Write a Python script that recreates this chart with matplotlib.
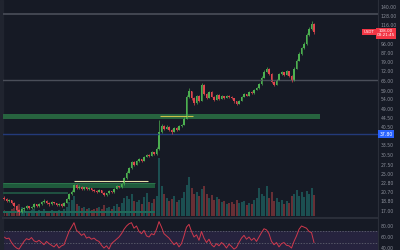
import numpy as np
import matplotlib.pyplot as plt
from matplotlib.ticker import NullLocator

# candle data
first_open = 19.5
closes = [19.2, 18.8, 19.0, 18.4, 18.0, 17.2, 16.8, 17.3,
          17.6, 17.9, 17.5, 17.8, 18.2, 17.9, 18.3,
          18.6, 18.9, 18.5, 18.2, 18.6, 18.4, 18.1, 18.3, 18.0, 18.5, 19.3,
          20.2, 20.8, 22.3, 21.6,
          21.9, 21.4, 21.7, 21.3, 21.5, 21.2, 21.0, 20.8, 21.1, 20.6, 20.1,
          20.4, 20.9, 20.7, 21.4, 22.0, 21.7, 22.4,
          24.0, 25.3, 26.4, 28.1,
          27.5, 28.4, 29.0, 28.6, 29.8, 30.4, 30.0,
          31.2, 30.6, 32.3, 38.5,
          41.0, 39.8, 40.6, 39.2, 38.6, 40.1, 39.4, 40.8, 41.5,
          44.2, 55.0, 58.5,
          54.5, 52.0, 55.8, 53.2, 62.5,
          57.0, 54.8, 58.2, 55.5, 53.8, 56.5,
          54.2, 55.6, 54.8, 56.0, 55.2, 54.5,
          52.8, 51.5, 53.0,
          55.5, 56.8, 56.0, 58.2, 57.5, 59.6, 60.5,
          63.2, 67.5, 71.8, 73.5, 70.2,
          64.5, 62.8, 66.0,
          69.8, 71.2, 69.5, 72.0, 68.5, 65.2,
          74.0, 80.5, 86.0, 91.5, 96.0, 105.0, 111.5, 118.0, 108.0]
highs = [19.8, 19.4, 19.3, 19.1, 18.6, 18.1, 17.4, 17.5,
         17.8, 18.1, 18.0, 18.0, 18.4, 18.3, 18.5,
         18.8, 19.2, 19.0, 18.6, 18.8, 18.7, 18.5, 18.5, 18.4, 18.7, 19.5,
         20.5, 21.2, 22.6, 22.5,
         22.2, 22.0, 21.9, 21.8, 21.7, 21.6, 21.3, 21.1, 21.3, 21.2, 20.7,
         20.6, 21.1, 21.0, 21.6, 22.2, 22.1, 22.7,
         24.3, 25.6, 26.8, 28.5,
         28.4, 28.7, 29.4, 29.2, 30.1, 30.8, 30.7,
         31.5, 31.4, 32.8, 43.5,
         42.0, 41.4, 41.2, 40.9, 39.6, 40.5, 40.6, 41.2, 42.0,
         45.0, 56.5, 60.5,
         59.0, 55.2, 56.5, 56.2, 64.0,
         63.0, 57.6, 59.0, 58.8, 56.0, 57.0,
         56.9, 56.2, 56.0, 56.5, 56.4, 55.6,
         54.9, 53.2, 53.5,
         56.0, 57.4, 57.2, 58.8, 58.6, 60.2, 61.2,
         64.0, 68.5, 72.8, 75.0, 74.2,
         70.8, 65.2, 66.8,
         70.6, 72.4, 71.8, 72.8, 72.6, 69.0,
         75.0, 81.8, 87.5, 93.0, 98.0, 107.0, 113.5, 121.0, 119.0]
lows = [19.0, 18.6, 18.6, 18.2, 17.7, 16.9, 16.4, 16.6,
        17.1, 17.4, 17.3, 17.3, 17.6, 17.7, 17.8,
        18.1, 18.4, 18.3, 18.0, 18.1, 18.2, 17.9, 17.9, 17.8, 17.9, 18.4,
        19.1, 20.0, 20.7, 21.3,
        21.4, 21.2, 21.2, 21.1, 21.1, 21.0, 20.8, 20.6, 20.7, 20.4, 19.8,
        19.9, 20.3, 20.5, 20.6, 21.3, 21.5, 21.6,
        22.3, 23.8, 25.1, 26.2,
        27.1, 27.3, 28.2, 28.3, 28.5, 29.6, 29.7,
        29.9, 30.3, 30.5, 32.1,
        38.0, 39.3, 39.5, 38.8, 37.6, 38.4, 39.0, 39.2, 40.5,
        41.2, 44.0, 54.5,
        53.8, 50.8, 51.5, 52.5, 53.0,
        56.2, 54.0, 54.5, 55.0, 53.0, 53.5,
        53.7, 53.9, 54.3, 54.5, 54.8, 54.0,
        52.2, 50.8, 51.2,
        52.8, 55.2, 55.6, 55.8, 57.0, 57.2, 59.2,
        60.2, 62.8, 67.0, 71.2, 69.5,
        63.8, 61.8, 62.4,
        65.6, 69.2, 68.8, 69.0, 67.8, 64.2,
        65.0, 73.5, 79.8, 85.2, 90.5, 95.0, 104.0, 110.5, 106.0]
volume = [6, 5, 4, 7, 8, 10, 12, 9, 6, 5, 4, 6, 7, 5, 6, 5, 7, 4, 5, 6, 4, 5, 6, 5, 7, 9,
          14, 16, 20, 12,
          10, 8, 9, 7, 8, 6, 7, 8, 9, 7, 11, 8, 9, 7, 10, 12, 9, 13,
          18, 20, 17, 22, 15, 14, 16, 12, 19, 23, 14, 13, 17, 20,
          58,
          30, 22, 18, 15, 17, 20, 14, 16, 18,
          24, 31, 39,
          28, 22, 24, 20, 27, 30, 22, 18, 21, 16, 19, 17, 14, 15, 12, 13, 14,
          12, 16, 13, 14, 15, 11, 13, 12, 16, 18,
          28, 22, 20, 30, 18,
          24, 15, 18, 14, 16, 12, 15, 13, 20,
          22, 26, 20, 24, 19, 25, 22, 28, 21]
rsi = [60, 57, 58, 50, 44, 40, 38, 45,
       52, 57, 55, 59, 53, 51, 54, 50, 46, 52, 48,
       45, 42, 47, 40, 44, 46, 58, 70, 78, 86,
       72, 68, 63, 66, 58, 60, 56, 58, 54, 52,
       45, 40, 44, 38, 48, 52, 56, 60,
       66, 74, 80, 84, 86, 76, 80, 70, 66, 72, 62,
       60, 66, 64, 74, 88, 78, 66, 62, 58,
       52, 46, 50, 42, 48, 62, 78, 83,
       70, 60, 64, 54, 70, 58, 50, 56, 46, 42, 48,
       44, 50, 46, 40, 47, 43, 38, 41,
       50, 58, 63, 56, 60, 54, 58, 52, 60, 68,
       75, 73, 66, 52, 46, 50, 42, 48,
       50, 45, 44, 40, 52, 62, 74, 80, 78, 76, 70, 68, 50]

# scale labels (the ones hidden behind the price tags are left out)
price_ticks = [140, 128, 116, 96, 87, 79, 72, 65, 59, 54, 49, 44.5, 40.5,
               33.5, 30.5, 27.5, 25, 22.8, 20.7, 18.8, 17]
rsi_ticks = [80, 60, 40]
last_price = "108.00"
last_timer = "03:21:45"
line_price = 37.8

BG = '#161a25'
GRID = '#2a2e39'
TXT = '#8b8f9a'
UP = '#4caf50'
DN = '#e0464e'

n = len(closes)
x = np.arange(n)
opens = np.array([first_open] + closes[:-1])
closes = np.array(closes)
up = closes >= opens

fig = plt.figure(figsize=(4, 2.5), dpi=100, facecolor=BG)
ax = fig.add_axes([3/400, 32/250, 375/400, 218/250], facecolor=BG)
rax = fig.add_axes([3/400, 0, 375/400, 31/250], facecolor=BG, sharex=ax)
fig.patches.append(plt.Rectangle((0, 0), 3/400, 1, transform=fig.transFigure,
                                 color='#20242f', zorder=0))

ax.set_yscale('log')
ax.set_ylim(15.83, 150.5)
ax.set_xlim(-0.4, 149.6)

# volume overlay
vax = ax.twinx()
vax.set_ylim(-2, 216)
vax.bar(x, volume, width=0.8, color=np.where(up, '#26a69a', '#ef5350'), alpha=0.38,
        linewidth=0)
vax.axis('off')
ax.set_zorder(vax.get_zorder() + 1)
ax.patch.set_visible(False)

# zones and levels
ax.axhline(130.9, color='#4a4e59', lw=1.2)
ax.axhline(65.9, color='#4a4e59', lw=1.0)
ax.axhline(line_price, color='#233a7a', lw=1.0)
ax.fill_between([-0.4, 126.4], 44.0, 46.3, color='#27643f', lw=0)
ax.fill_between([-0.4, 60.4], 21.6, 22.7, color='#1f5a3c', lw=0)
ax.hlines(22.7, -0.4, 60.4, color='#2e7a4e', lw=0.6)
ax.fill_between([-0.4, 25.6], 20.3, 20.8, color='#1f5040', lw=0)
ax.fill_between([-0.4, 60.4], 16.75, 17.05, color='#1f6a5a', lw=0)
ax.hlines(23.1, 28, 57.6, color='#e6e0a8', lw=0.8)
ax.hlines(45.2, 62.4, 75.6, color='#c8c048', lw=0.8)

# candles
colors = np.where(up, UP, DN)
ax.vlines(x, lows, highs, color=colors, lw=0.5)
ax.bar(x, np.abs(closes - opens), bottom=np.minimum(opens, closes), width=0.55,
       color=colors, linewidth=0)

ax.yaxis.tick_right()
ax.set_yticks(price_ticks)
ax.set_yticklabels(['%.2f' % t for t in price_ticks])
ax.yaxis.set_minor_locator(NullLocator())
ax.tick_params(axis='y', length=0, pad=2, labelsize=3.3, colors=TXT)
ax.tick_params(axis='x', bottom=False, labelbottom=False)
for s in ['top', 'left']:
    ax.spines[s].set_visible(False)
ax.spines['bottom'].set_color(GRID)
ax.spines['bottom'].set_linewidth(1.5)
ax.spines['right'].set_color(GRID)

# RSI pane
rax.set_ylim(36.4, 92.7)
rax.fill_between([-0.4, 149.6], 30, 70, color='#7e57c2', alpha=0.16, lw=0)
rax.axhline(70, color='#6a6d78', lw=0.5, ls=(0, (2, 2)))
rax.axhline(50, color='#6a6d78', lw=0.5, ls=(0, (2, 2)))
rax.plot(x, rsi, color='#d0384c', lw=0.7)
rax.yaxis.tick_right()
rax.set_yticks(rsi_ticks)
rax.set_yticklabels(['%.2f' % t for t in rsi_ticks])
rax.tick_params(axis='y', length=0, pad=2, labelsize=3.3, colors=TXT)
rax.tick_params(axis='x', bottom=False, labelbottom=False)
for s in ['top', 'left', 'bottom']:
    rax.spines[s].set_visible(False)
rax.spines['right'].set_color(GRID)

# price labels on the scale
fig.text(386/400, 1 - 134/250, '%.2f' % line_price, fontsize=3.3, color='white',
         ha='center', va='center',
         bbox=dict(boxstyle='square,pad=0.25', fc='#2962ff', ec='none'))
fig.text(386/400, 1 - 33.5/250, last_price + '\n' + last_timer, fontsize=3.0,
         color='white', ha='center', va='center', linespacing=1.0,
         bbox=dict(boxstyle='square,pad=0.3', fc='#f23645', ec='none'))
fig.text(369/400, 1 - 32/250, 'USDT', fontsize=2.8, color='white',
         ha='center', va='center',
         bbox=dict(boxstyle='square,pad=0.3', fc='#f23645', ec='none'))

plt.savefig('out.png', dpi=100, facecolor=BG)
plt.close(fig)
